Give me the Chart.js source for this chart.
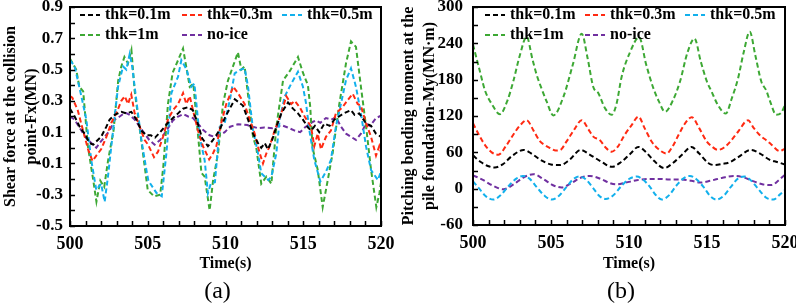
<!DOCTYPE html>
<html>
<head>
<meta charset="utf-8">
<script src="https://cdn.jsdelivr.net/npm/chart.js@4/dist/chart.umd.min.js"></script>
<style>
  body { margin: 0; background: #fff; }
  #wrap { position: relative; width: 796px; height: 307px; }
  canvas { position: absolute; top: 0; }
</style>
</head>
<body>
<div id="wrap">
  <canvas id="fxChart" width="398" height="307" style="left:0"></canvas>
  <canvas id="myChart" width="398" height="307" style="left:398px"></canvas>
</div>
<script>
// ---- data: [time (s), value] ----
let seriesLabels = ['thk=0.1m', 'thk=0.3m', 'thk=0.5m', 'thk=1m', 'no-ice'];
let seriesColors = ['#000000', '#ff2a12', '#12b0ec', '#3da834', '#7030a0'];

let xTicks = [500, 505, 510, 515, 520];
let fxTicks = [-0.5, -0.3, -0.1, 0.1, 0.3, 0.5, 0.7, 0.9];
let myTicks = [-60, 0, 60, 120, 180, 240, 300];

// (a) shear force Fx (MN)
let fxThk01 = [[500, 0.25], [500.3, 0.20], [500.62, 0.135], [500.94, 0.09], [501.26, 0.03], [501.5, 0.02], [501.69, 0.04], [502.0, 0.07], [502.34, 0.135], [502.55, 0.18], [502.87, 0.21], [503.3, 0.23], [503.62, 0.22], [503.94, 0.23], [504.27, 0.18], [504.59, 0.11], [504.91, 0.08], [505.2, 0.08], [505.47, 0.065], [505.8, 0.10], [506.3, 0.16], [506.62, 0.19], [506.95, 0.22], [507.27, 0.25], [507.6, 0.26], [507.9, 0.24], [508.2, 0.16], [508.5, 0.06], [508.87, 0.01], [509.2, 0.05], [509.6, 0.11], [510.0, 0.20], [510.6, 0.31], [511.12, 0.27], [511.45, 0.18], [511.77, 0.09], [512.09, 0.03], [512.3, 0.0], [512.52, 0.03], [512.73, -0.01], [513.0, 0.05], [513.27, 0.135], [513.59, 0.22], [514.02, 0.29], [514.34, 0.25], [514.66, 0.22], [514.98, 0.18], [515.3, 0.13], [515.5, 0.11], [515.75, 0.14], [516.03, 0.10], [516.36, 0.155], [516.7, 0.14], [517.0, 0.18], [517.3, 0.20], [517.6, 0.22], [518.07, 0.24], [518.3, 0.21], [518.6, 0.22], [519.04, 0.156], [519.36, 0.14], [519.68, 0.09], [520, 0.07]];
let fxThk03 = [[500, 0.33], [500.15, 0.32], [500.5, 0.24], [500.84, 0.11], [501.16, -0.01], [501.45, -0.085], [501.69, -0.05], [502.0, -0.01], [502.34, 0.07], [502.66, 0.16], [502.98, 0.22], [503.3, 0.30], [503.52, 0.33], [503.73, 0.28], [503.94, 0.34], [504.16, 0.22], [504.48, 0.135], [504.8, 0.05], [505.02, 0.02], [505.4, -0.06], [505.66, -0.025], [505.98, 0.07], [506.3, 0.18], [506.62, 0.24], [506.95, 0.28], [507.27, 0.35], [507.48, 0.28], [507.7, 0.33], [507.91, 0.24], [508.23, 0.11], [508.55, 0.01], [508.95, -0.075], [509.2, -0.035], [509.41, 0.01], [509.73, 0.16], [510.05, 0.28], [510.5, 0.39], [510.8, 0.35], [511.23, 0.28], [511.55, 0.18], [511.88, 0.09], [512.2, -0.035], [512.41, -0.10], [512.63, -0.035], [512.84, 0.01], [513.16, 0.11], [513.59, 0.22], [513.91, 0.33], [514.23, 0.28], [514.45, 0.30], [514.77, 0.26], [515.09, 0.20], [515.5, 0.135], [515.71, 0.01], [515.93, 0.09], [516.14, -0.01], [516.46, 0.07], [516.78, 0.11], [517.1, 0.22], [517.53, 0.26], [517.86, 0.305], [518.18, 0.345], [518.5, 0.28], [518.7, 0.27], [519.04, 0.156], [519.36, 0.07], [519.68, -0.05], [519.89, 0.01], [520, -0.03]];
let fxThk05 = [[500, 0.56], [500.3, 0.52], [500.73, 0.33], [501.05, 0.18], [501.37, -0.08], [501.69, -0.27], [502.0, -0.23], [502.23, -0.345], [502.44, -0.185], [502.77, 0.11], [503.09, 0.39], [503.41, 0.52], [503.62, 0.50], [503.84, 0.60], [504.0, 0.52], [504.27, 0.30], [504.59, 0.05], [504.91, -0.14], [505.04, -0.21], [505.57, -0.29], [505.9, -0.31], [506.2, -0.035], [506.52, 0.35], [506.95, 0.455], [507.16, 0.56], [507.5, 0.50], [507.8, 0.39], [508.0, 0.41], [508.34, 0.07], [508.66, -0.08], [508.87, -0.29], [509.05, -0.23], [509.32, -0.22], [509.63, 0.135], [509.95, 0.16], [510.27, 0.30], [510.59, 0.476], [510.91, 0.497], [511.23, 0.508], [511.45, 0.39], [511.77, 0.114], [512.09, -0.035], [512.3, -0.163], [512.43, -0.175], [512.75, -0.206], [512.95, -0.185], [513.27, -0.035], [513.48, 0.177], [513.8, 0.327], [514.23, 0.41], [514.66, 0.486], [514.98, 0.39], [515.18, 0.284], [515.39, 0.114], [515.71, -0.078], [516.1, -0.215], [516.46, -0.153], [516.78, -0.078], [517.1, 0.135], [517.43, 0.284], [517.75, 0.433], [518.07, 0.508], [518.39, 0.39], [518.71, 0.22], [519.04, 0.007], [519.36, -0.142], [519.8, -0.206], [520, -0.15]];
let fxThk1 = [[500, 0.57], [500.4, 0.50], [500.6, 0.39], [500.85, 0.36], [501.15, 0.01], [501.5, -0.21], [501.7, -0.345], [501.95, -0.21], [502.2, -0.25], [502.45, -0.08], [502.8, 0.11], [503.1, 0.43], [503.3, 0.52], [503.5, 0.58], [503.73, 0.54], [503.95, 0.625], [504.15, 0.37], [504.5, 0.11], [504.7, -0.04], [505.0, -0.27], [505.4, -0.31], [505.8, -0.30], [506.0, -0.12], [506.3, 0.28], [506.6, 0.48], [506.95, 0.56], [507.27, 0.635], [507.7, 0.39], [507.93, 0.41], [508.34, -0.035], [508.45, -0.16], [508.66, -0.185], [508.98, -0.40], [509.2, -0.21], [509.52, -0.035], [509.84, 0.28], [510.16, 0.43], [510.8, 0.61], [511.02, 0.50], [511.23, 0.52], [511.77, 0.07], [511.98, 0.0], [512.3, -0.23], [512.63, -0.185], [512.95, -0.23], [513.27, 0.135], [513.7, 0.43], [514.13, 0.49], [514.66, 0.58], [514.98, 0.48], [515.3, 0.40], [515.45, 0.26], [515.6, 0.0], [515.93, -0.14], [516.25, -0.38], [516.57, -0.21], [516.89, -0.035], [517.32, 0.28], [517.75, 0.54], [518.07, 0.68], [518.39, 0.645], [518.71, 0.39], [519.04, 0.135], [519.36, -0.14], [519.7, -0.38], [519.9, -0.29], [520, -0.22]];
let fxNoIce = [[500, 0.20], [500.3, 0.18], [500.73, 0.11], [501.05, 0.06], [501.37, 0.03], [501.69, 0.0], [501.9, 0.03], [502.23, 0.07], [502.55, 0.11], [502.87, 0.18], [503.2, 0.20], [503.55, 0.225], [503.84, 0.21], [504.16, 0.18], [504.48, 0.135], [504.8, 0.09], [505.1, 0.05], [505.44, 0.02], [505.8, 0.05], [506.2, 0.11], [506.62, 0.175], [506.95, 0.20], [507.3, 0.215], [507.6, 0.20], [507.91, 0.19], [508.23, 0.155], [508.55, 0.115], [508.98, 0.08], [509.3, 0.07], [509.63, 0.08], [509.95, 0.10], [510.3, 0.135], [510.8, 0.15], [511.4, 0.145], [512.09, 0.125], [512.5, 0.13], [513.0, 0.125], [513.59, 0.145], [514.0, 0.13], [514.45, 0.11], [514.8, 0.10], [515.1, 0.13], [515.6, 0.165], [515.82, 0.175], [516.1, 0.16], [516.46, 0.19], [516.8, 0.18], [517.1, 0.195], [517.43, 0.135], [517.75, 0.09], [518.07, 0.07], [518.39, 0.05], [518.71, 0.09], [519.04, 0.155], [519.3, 0.14], [519.68, 0.19], [520, 0.205]];

// (b) pitching bending moment My (MN·m)
let myThk01 = [[500, 55], [500.5, 44], [501.0, 37], [501.4, 35], [501.9, 40], [502.5, 54], [503.25, 64], [503.8, 57], [504.3, 48], [505.0, 40], [505.6, 39], [506.2, 48], [506.9, 64], [507.5, 56], [508.2, 45], [508.9, 36], [509.5, 44], [510.1, 58], [510.6, 69], [511.1, 60], [511.6, 46], [512.25, 34], [512.8, 42], [513.4, 56], [514.0, 69], [514.5, 58], [515.1, 42], [515.5, 39], [516.0, 41], [516.4, 43], [517.0, 52], [517.8, 64], [518.4, 58], [519.0, 48], [519.5, 44], [520, 40]];
let myThk03 = [[500, 108], [500.4, 88], [500.77, 72], [501.2, 60], [501.63, 56], [502.1, 70], [502.58, 89], [503.0, 104], [503.44, 113], [503.9, 95], [504.3, 78], [504.6, 72], [504.94, 67], [505.3, 63], [505.6, 64], [506.0, 78], [506.5, 98], [506.97, 113], [507.4, 98], [507.71, 86], [508.14, 80], [508.5, 68], [508.89, 61], [509.3, 70], [509.7, 88], [510.17, 105], [510.6, 119], [511.0, 100], [511.45, 78], [511.9, 65], [512.41, 58], [512.8, 70], [513.2, 90], [513.6, 108], [514.02, 118], [514.5, 100], [514.98, 78], [515.3, 70], [515.7, 64], [516.1, 68], [516.5, 78], [516.99, 94], [517.63, 113], [518.0, 100], [518.48, 86], [518.8, 80], [519.12, 73], [519.66, 62], [520, 66]];
let myThk05 = [[500, 12], [500.4, 0], [500.8, -12], [501.3, -18], [501.8, -10], [502.3, 5], [502.8, 17], [503.2, 21], [503.6, 17], [504.1, 2], [504.6, -12], [505.05, -18], [505.5, -12], [506.0, 3], [506.4, 15], [506.8, 20], [507.2, 16], [507.7, 1], [508.1, -12], [508.5, -17], [509.0, -11], [509.5, 4], [510.0, 16], [510.5, 20], [510.9, 15], [511.4, 1], [511.7, -10], [512.1, -18], [512.6, -10], [513.0, 4], [513.5, 17], [513.9, 21], [514.3, 16], [514.8, 2], [515.2, -12], [515.6, -18], [516.1, -11], [516.5, 2], [517.0, 17], [517.4, 20], [517.8, 14], [518.3, -1], [518.8, -15], [519.25, -18], [519.7, -9], [520, -2]];
let myThk1 = [[500, 238], [500.45, 193], [500.77, 162], [501.2, 140], [501.73, 123], [502.2, 145], [502.58, 177], [503.0, 220], [503.44, 251], [503.8, 215], [504.08, 188], [504.4, 165], [504.72, 144], [505.15, 121], [505.8, 152], [506.4, 205], [506.97, 256], [507.35, 215], [507.71, 168], [508.03, 158], [508.46, 133], [508.89, 122], [509.2, 140], [509.53, 185], [510.06, 225], [510.65, 250], [511.1, 205], [511.56, 166], [511.9, 145], [512.31, 127], [512.8, 145], [513.27, 177], [513.75, 225], [514.2, 248], [514.6, 210], [514.98, 178], [515.3, 160], [515.7, 138], [516.2, 124], [516.6, 150], [516.99, 182], [517.35, 225], [517.74, 259], [518.1, 220], [518.48, 177], [518.8, 162], [519.02, 146], [519.44, 122], [519.75, 125], [520, 138]];
let myNoIce = [[500, 22], [500.6, 15], [501.2, 6], [501.95, -1], [502.6, 7], [503.2, 18], [503.87, 24], [504.5, 16], [505.1, 6], [505.69, 2], [506.3, 9], [506.9, 18], [507.5, 21], [508.2, 16], [508.8, 9], [509.2, 7], [509.8, 10], [510.5, 14], [511.2, 16], [512.0, 16], [512.6, 15], [513.3, 15], [514.0, 13], [514.55, 10], [515.2, 13], [516.0, 18], [516.7, 21], [517.3, 19], [518.0, 12], [518.6, 7], [519.15, 6], [519.6, 14], [520, 23]];

let serif = 'Liberation Serif, Times New Roman, serif';

// frame, inward minor ticks, legend and caption
let decorPlugin = {
    id: 'decor',
    afterDatasetsDraw(chart, args, opts) {
        let ctx = chart.ctx;
        let a = chart.chartArea;
        let x = chart.scales.x, y = chart.scales.y;
        ctx.save();
        ctx.strokeStyle = '#000';
        ctx.lineWidth = 1.5;
        ctx.beginPath();
        for (let i = 0; i <= 20; i++) {
            let px = Math.round(x.getPixelForValue(500 + i)) + 0.5;
            ctx.moveTo(px, a.bottom);
            ctx.lineTo(px, a.bottom - 5);
        }
        let n = Math.round((y.max - y.min) / opts.yMinor);
        for (let i = 0; i <= n; i++) {
            let py = Math.round(y.getPixelForValue(y.min + i * opts.yMinor)) + 0.5;
            ctx.moveTo(a.left, py);
            ctx.lineTo(a.left + 5, py);
        }
        ctx.stroke();
        ctx.lineWidth = 2;
        ctx.strokeRect(a.left, a.top, a.right - a.left, a.bottom - a.top);

        // legend
        ctx.font = 'bold 16px ' + serif;
        ctx.textBaseline = 'middle';
        ctx.textAlign = 'left';
        chart.data.datasets.forEach(function (ds, i) {
            let lx = a.left + opts.cols[i % 3];
            let ly = a.top + opts.rows[Math.floor(i / 3)];
            ctx.strokeStyle = ds.borderColor;
            ctx.lineWidth = 2;
            ctx.setLineDash(ds.borderDash);
            ctx.beginPath();
            ctx.moveTo(lx, ly);
            ctx.lineTo(lx + 20, ly);
            ctx.stroke();
            ctx.setLineDash([]);
            ctx.fillStyle = '#000';
            ctx.fillText(ds.label, lx + 25, ly);
        });

        ctx.font = '24px ' + serif;
        ctx.textAlign = 'center';
        ctx.fillText(opts.caption, (a.left + a.right) / 2 - 8, 292);
        ctx.restore();
    }
};

function makeDatasets(list, tension) {
    return list.map(function (d, i) {
        return {
            label: seriesLabels[i],
            data: d,
            borderColor: seriesColors[i],
            backgroundColor: 'transparent',
            borderWidth: 2,
            borderDash: [5, 3],
            pointRadius: 0,
            fill: false,
            tension: tension,
            cubicInterpolationMode: tension ? 'monotone' : 'default'
        };
    });
}

function makeChart(id, datasets, cfg) {
    let tickFont = {family: serif, size: 17, weight: 'bold'};
    return new Chart(document.getElementById(id), {
        type: 'line',
        data: {datasets: datasets},
        options: {
            responsive: false,
            animation: false,
            devicePixelRatio: 1,
            layout: {padding: {left: 0, right: cfg.padRight, top: 7, bottom: 30}},
            plugins: {
                legend: {display: false},
                tooltip: {enabled: false},
                decor: {yMinor: cfg.yMinor, cols: cfg.cols, rows: [8, 28], caption: cfg.caption}
            },
            scales: {
                x: {
                    type: 'linear', min: 500, max: 520,
                    afterBuildTicks: s => { s.ticks = xTicks.map(v => ({value: v})); },
                    ticks: {font: {family: serif, size: 18, weight: 'bold'}, color: '#000', padding: 8, maxRotation: 0},
                    grid: {display: false, drawTicks: false},
                    border: {display: false},
                    title: {display: true, text: 'Time(s)', color: '#000',
                        font: {family: serif, size: 16, weight: 'bold'}, padding: {top: 0, bottom: 4}},
                    afterFit: s => { s.height = cfg.xHeight; s.paddingLeft = 0; s.paddingRight = 0; }
                },
                y: {
                    type: 'linear', min: cfg.yMin, max: cfg.yMax,
                    afterBuildTicks: s => { s.ticks = cfg.yTicks.map(v => ({value: v})); },
                    ticks: {font: tickFont, color: '#000', padding: cfg.tickPad, callback: cfg.fmt},
                    grid: {display: false, drawTicks: false},
                    border: {display: false},
                    title: {display: true, text: cfg.yTitle, color: '#000',
                        font: {family: serif, size: 16, weight: 'bold', lineHeight: 1.3},
                        padding: {top: cfg.titlePad, bottom: 0}},
                    afterFit: s => { s.width = cfg.yWidth; s.paddingTop = 0; s.paddingBottom = 0; }
                }
            }
        },
        plugins: [decorPlugin]
    });
}

makeChart('fxChart', makeDatasets([fxThk01, fxThk03, fxThk05, fxThk1, fxNoIce], 0), {
    padRight: 17, xHeight: 51, yWidth: 70, titlePad: 0.5, tickPad: 7,
    yMin: -0.5, yMax: 0.9, yTicks: fxTicks, yMinor: 0.1,
    fmt: v => v.toFixed(1),
    yTitle: ['Shear force at the collision', 'point-Fx(MN)'],
    cols: [10, 112, 212], caption: '(a)'
});

makeChart('myChart', makeDatasets([myThk01, myThk03, myThk05, myThk1, myNoIce], 0.4), {
    padRight: 11, xHeight: 52, yWidth: 75, titlePad: 0.5, tickPad: 10,
    yMin: -60, yMax: 300, yTicks: myTicks, yMinor: 30,
    fmt: v => String(v),
    yTitle: ['Pitching bending moment at the', 'pile foundation-My(MN\u00b7m)'],
    cols: [12, 112, 212], caption: '(b)'
});
</script>
</body>
</html>
